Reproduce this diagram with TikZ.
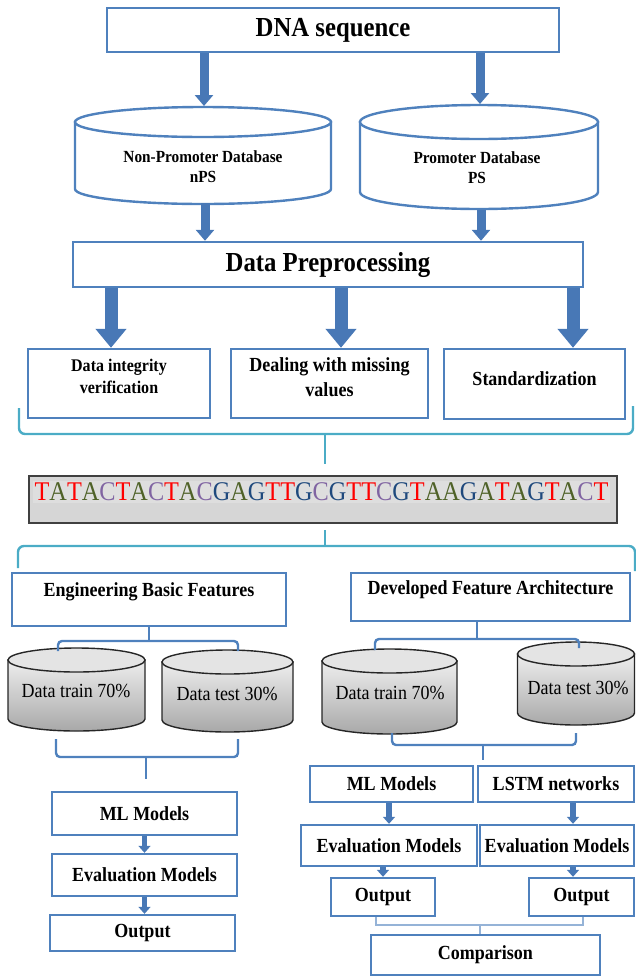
\documentclass[tikz,border=0pt]{standalone}
\usepackage{fontspec}
\setmainfont{Liberation Serif}[FakeStretch=0.9]
\usetikzlibrary{arrows.meta}

\definecolor{boxblue}{RGB}{79,129,189}
\definecolor{arrowblue}{RGB}{72,120,182}
\definecolor{braceteal}{RGB}{75,172,198}
\definecolor{thinblue}{RGB}{149,179,215}
\definecolor{seqgray}{RGB}{214,214,214}
\definecolor{seqlight}{RGB}{222,222,222}
\definecolor{drumtop}{RGB}{238,238,238}
\definecolor{drumbot}{RGB}{168,168,168}
\definecolor{drumcap}{RGB}{228,228,228}
\definecolor{colT}{RGB}{255,0,0}
\definecolor{colA}{RGB}{79,98,40}
\definecolor{colC}{RGB}{128,100,162}
\definecolor{colG}{RGB}{31,73,125}

\newcommand{\base}[1]{\textcolor{col#1}{#1}}
\newcommand{\fsz}[2]{\fontsize{#1}{#2}\selectfont}
% cylinder: cx, y top, y bottom, rx, ry, body style, lid style
\newcommand{\dbdrum}[7]{%
  \path[#6] ({#1-#4},#2) -- ({#1-#4},#3) arc[start angle=180,end angle=360,x radius=#4,y radius=#5] -- ({#1+#4},#2) -- cycle;
  \path[#7] (#1,#2) ellipse[x radius=#4,y radius=#5];}

\begin{document}
\begin{tikzpicture}[x=1pt,y=1pt,
    box/.style={draw=boxblue,line width=2.4pt,fill=white,inner sep=0pt,align=center,font=\bfseries\fsz{20}{24}},
    lbl/.style={align=center,inner sep=0pt,font=\bfseries\fsz{20}{24}},
    drumlbl/.style={inner sep=0pt,font=\fsz{20}{22}},
    topdrum/.style={draw=boxblue,line width=2.4pt,fill=white},
    graydrum/.style={draw=black!85,line width=1.4pt,shade,top color=drumtop,bottom color=drumbot},
    graylid/.style={draw=black!85,line width=1.4pt,fill=drumcap},
    fatarrow/.style={arrowblue,line width=9pt,-{Triangle[width=18pt,length=11pt]}},
    bigarrow/.style={arrowblue,line width=13pt,-{Triangle[width=30pt,length=19pt]}},
    smallarrow/.style={arrowblue,line width=5.5pt,-{Triangle[width=12pt,length=7pt]}},
    tealbrace/.style={braceteal,line width=2.4pt,rounded corners=6pt},
    bluebrace/.style={boxblue,line width=2.4pt,rounded corners=4pt},
    thinline/.style={thinblue,line width=1.2pt}]
    \useasboundingbox (0,0) rectangle (636,-978);

    % sequenza DNA e database
    \node[box,minimum width=452pt,minimum height=44pt,font=\bfseries\fsz{27.5}{30}] (dna) at (333,-30) {DNA sequence};
    \dbdrum{203}{-122}{-189}{128}{15}{topdrum}{topdrum}
    \dbdrum{479}{-122}{-192}{119}{17}{topdrum}{topdrum}
    \node[lbl,font=\bfseries\fsz{17}{20}] (npdb) at (203,-167) {Non-Promoter Database\\nPS};
    \node[lbl,font=\bfseries\fsz{17}{20}] (psdb) at (477,-168) {Promoter Database\\PS};
    \coordinate (nptop) at (204,-106);
    \coordinate (npbot) at (205,-203);
    \coordinate (pstop) at (480,-104);
    \coordinate (psbot) at (481,-210);

    % preprocessing
    \node[box,minimum width=510pt,minimum height=45pt,font=\bfseries\fsz{27.5}{30}] (pre) at (328,-264.5) {Data Preprocessing};
    \draw[fatarrow] (dna.south -| nptop) -- (nptop);
    \draw[fatarrow] (dna.south -| pstop) -- (pstop);
    \draw[fatarrow] (npbot) -- (npbot |- pre.north);
    \draw[fatarrow] (psbot) -- (psbot |- pre.north);

    % passi di preprocessing
    \node[box,minimum width=182pt,minimum height=69pt] (sub1) at (119,-383.5) {};
    \node[box,minimum width=197pt,minimum height=69pt] (sub2) at (329.5,-383.5) {};
    \node[box,minimum width=181pt,minimum height=70pt] (sub3) at (534.5,-384) {};
    \node[lbl,font=\bfseries\fsz{17.8}{22}] (sub1t) at (119,-376) {Data integrity\\verification};
    \node[lbl,font=\bfseries\fsz{20}{25}] (sub2t) at (329.5,-377.5) {Dealing with missing\\values};
    \node[lbl] (sub3t) at (534.5,-379) {Standardization};
    \coordinate (a1) at (111,-347);
    \coordinate (a2) at (341,-346);
    \coordinate (a3) at (573,-347);
    \draw[bigarrow] (pre.south -| a1) -- (a1 |- sub1.north);
    \draw[bigarrow] (pre.south -| a2) -- (a2 |- sub2.north);
    \draw[bigarrow] (pre.south -| a3) -- (a3 |- sub3.north);

    % graffa sopra la sequenza
    \coordinate (br1l) at (19,-408);
    \coordinate (br1m) at (325,-434);
    \coordinate (br1r) at (633,-406);
    \coordinate (br1s) at (325,-464);
    \draw[tealbrace] (br1l) |- (br1m) -| (br1r);
    \draw[tealbrace] (br1m) -- (br1s);

    % sequenza
    \node[draw=black!75,line width=1.5pt,fill=seqgray,minimum width=588pt,minimum height=47pt] (seq) at (323,-499.5) {};
    \node[fill=seqlight,inner sep=1.5pt,font=\fsz{27}{28}] (seqt) at (321.5,-492)
      {\base{T}\base{A}\base{T}\base{A}\base{C}\base{T}\base{A}\base{C}\base{T}\base{A}\base{C}\base{G}\base{A}\base{G}\base{T}\base{T}\base{G}\base{C}\base{G}\base{T}\base{T}\base{C}\base{G}\base{T}\base{A}\base{A}\base{G}\base{A}\base{T}\base{A}\base{G}\base{T}\base{A}\base{C}\base{T}};

    % graffa sotto la sequenza
    \coordinate (br2s) at (325,-530);
    \coordinate (br2m) at (325,-546);
    \coordinate (br2l) at (18,-568);
    \coordinate (br2r) at (635,-571);
    \draw[tealbrace] (br2l) |- (br2m) -| (br2r);
    \draw[tealbrace] (br2s) -- (br2m);

    % due rami
    \node[box,minimum width=274pt,minimum height=53pt] (ebf) at (149,-599.5) {};
    \node[box,minimum width=279pt,minimum height=48pt] (dfa) at (490.5,-597) {};
    \node[lbl] (ebft) at (149,-592) {Engineering Basic Features};
    \node[lbl] (dfat) at (490.5,-590) {Developed Feature Architecture};

    % cilindri train / test
    \dbdrum{76.5}{-660}{-719}{68.5}{12}{graydrum}{graylid}
    \dbdrum{227.5}{-662}{-720}{65.5}{12}{graydrum}{graylid}
    \dbdrum{389.5}{-661}{-722}{67.5}{12}{graydrum}{graylid}
    \dbdrum{576}{-654}{-713}{58.5}{12}{graydrum}{graylid}
    \node[drumlbl] (tr1) at (76,-691) {Data train 70\%};
    \node[drumlbl] (te1) at (227,-694) {Data test 30\%};
    \node[drumlbl] (tr2) at (390,-693) {Data train 70\%};
    \node[drumlbl] (te2) at (578,-688) {Data test 30\%};

    % parentesi blu
    \coordinate (e1l) at (58,-651);
    \coordinate (e1m) at (149,-641);
    \coordinate (e1r) at (238,-651);
    \draw[bluebrace] (e1l) |- (e1m) -| (e1r);
    \draw[bluebrace] (ebf.south) -- (e1m);
    \coordinate (d1l) at (375,-650);
    \coordinate (d1m) at (477,-639);
    \coordinate (d1r) at (579,-648);
    \draw[bluebrace] (d1l) |- (d1m) -| (d1r);
    \draw[bluebrace] (dfa.south -| d1m) -- (d1m);
    \coordinate (e2l) at (56,-739);
    \coordinate (e2m) at (146,-757);
    \coordinate (e2r) at (238,-739);
    \coordinate (e2s) at (146,-779);
    \draw[bluebrace] (e2l) |- (e2m) -| (e2r);
    \draw[bluebrace] (e2m) -- (e2s);
    \coordinate (d2l) at (392,-733);
    \coordinate (d2m) at (483,-745);
    \coordinate (d2r) at (576,-733);
    \coordinate (d2s) at (483,-760);
    \draw[bluebrace] (d2l) |- (d2m) -| (d2r);
    \draw[bluebrace] (d2m) -- (d2s);

    % ramo sinistro
    \node[box,minimum width=185pt,minimum height=43pt] (mlL) at (144.5,-813.5) {ML Models};
    \node[box,minimum width=185pt,minimum height=42pt] (evL) at (144.5,-875) {Evaluation Models};
    \node[box,minimum width=185pt,minimum height=36pt] (outL) at (142.5,-933) {Output};
    \draw[smallarrow] (mlL.south) -- (evL.north);
    \draw[smallarrow] (evL.south) -- (evL.south |- outL.north);

    % ramo destro
    \node[box,minimum width=163pt,minimum height=36pt] (mlR) at (391.5,-784) {ML Models};
    \node[box,minimum width=156pt,minimum height=36pt] (lstm) at (556,-784) {LSTM networks};
    \node[box,minimum width=176pt,minimum height=41pt] (evR1) at (389,-845.5) {Evaluation Models};
    \node[box,minimum width=154pt,minimum height=41pt] (evR2) at (557,-845.5) {Evaluation Models};
    \node[box,minimum width=104pt,minimum height=38pt] (outR1) at (383,-897) {Output};
    \node[box,minimum width=105pt,minimum height=38pt] (outR2) at (581.5,-897) {Output};
    \coordinate (ar) at (573,-800);
    \draw[smallarrow] (evR1.north |- mlR.south) -- (evR1.north);
    \draw[smallarrow] (lstm.south -| ar) -- (evR2.north -| ar);
    \draw[smallarrow] (evR1.south -| outR1.north) -- (outR1.north);
    \draw[smallarrow] (evR2.south -| ar) -- (outR2.north -| ar);

    % confronto
    \node[box,minimum width=229pt,minimum height=40pt] (cmp) at (485.5,-955) {Comparison};
    \coordinate (c1l) at (376,-917);
    \coordinate (c1m) at (480,-925);
    \coordinate (c1r) at (583,-917);
    \draw[thinline] (c1l) |- (c1m) -| (c1r);
    \draw[thinline] (c1m) -- (cmp.north -| c1m);
\end{tikzpicture}
\end{document}
